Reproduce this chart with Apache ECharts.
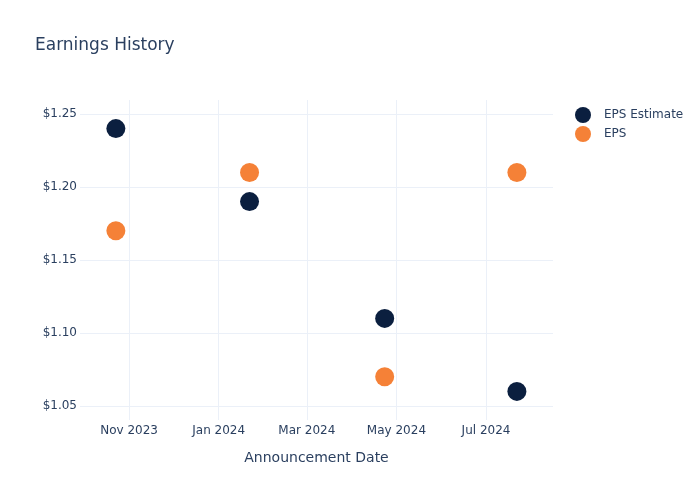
<!DOCTYPE html>
<html>
<head>
<meta charset="utf-8">
<script src="https://cdn.jsdelivr.net/npm/echarts@6/dist/echarts.min.js"></script>
<style>html,body{margin:0;padding:0;background:#fff}#c{width:700px;height:500px}</style>
</head>
<body>
<div id="c"></div>
<script>
const dates = ['2023-10-23', '2024-01-22', '2024-04-23', '2024-07-22'];
const epsEstimate = [1.24, 1.19, 1.11, 1.06];
const eps = [1.17, 1.21, 1.07, 1.21];
const xTicks = ['2023-11-01', '2024-01-01', '2024-03-01', '2024-05-01', '2024-07-01'];
const yTicks = [1.05, 1.10, 1.15, 1.20, 1.25];
const xRange = ['2023-09-28T14:00:00Z', '2024-08-15T14:00:00Z'];
const yRange = [1.0404, 1.2596];

const ts = s => Date.parse(s.length === 10 ? s + 'T00:00:00Z' : s);
const MONTHS = ['Jan','Feb','Mar','Apr','May','Jun','Jul','Aug','Sep','Oct','Nov','Dec'];
const FONT = 'DejaVu Sans';
const TXT = '#2a3f5f';
const GRID = '#ebf0f8';

const chart = echarts.init(document.getElementById('c'), null, {renderer: 'canvas'});
chart.setOption({
  animation: false,
  backgroundColor: '#fff',
  title: {
    text: 'Earnings History',
    left: 30, top: 32,
    textStyle: {fontFamily: FONT, fontSize: 17, fontWeight: 'normal', color: TXT}
  },
  legend: {
    orient: 'vertical',
    left: 575, top: 107, padding: 0,
    itemWidth: 16, itemHeight: 16, itemGap: 3,
    icon: 'circle',
    textStyle: {fontFamily: FONT, fontSize: 12, color: TXT, padding: [0, 0, 0, 8]},
    data: ['EPS Estimate', 'EPS']
  },
  grid: {left: 80, right: 147, top: 100, bottom: 80, containLabel: false},
  xAxis: {
    type: 'value',
    min: ts(xRange[0]), max: ts(xRange[1]),
    name: 'Announcement Date',
    nameLocation: 'middle', nameGap: 31,
    nameTextStyle: {fontFamily: FONT, fontSize: 14, color: TXT},
    axisLine: {show: false},
    axisTick: {show: false, customValues: xTicks.map(ts)},
    axisLabel: {
      customValues: xTicks.map(ts),
      fontFamily: FONT, fontSize: 12, color: TXT, margin: 5,
      formatter: v => { const d = new Date(v); return MONTHS[d.getUTCMonth()] + ' ' + d.getUTCFullYear(); }
    },
    splitLine: {show: true, lineStyle: {color: GRID, width: 1}}
  },
  yAxis: {
    type: 'value',
    min: yRange[0], max: yRange[1],
    axisLine: {show: false},
    axisTick: {show: false, customValues: yTicks},
    axisLabel: {
      customValues: yTicks,
      fontFamily: FONT, fontSize: 12, color: TXT, margin: 3,
      formatter: v => '$' + v.toFixed(2)
    },
    splitLine: {show: true, lineStyle: {color: GRID, width: 1}}
  },
  series: [
    {
      name: 'EPS Estimate', type: 'scatter', symbolSize: 19,
      itemStyle: {color: '#0b1f3f', opacity: 1},
      data: dates.map((d, i) => [ts(d), epsEstimate[i]])
    },
    {
      name: 'EPS', type: 'scatter', symbolSize: 19,
      itemStyle: {color: '#f58137', opacity: 1},
      data: dates.map((d, i) => [ts(d), eps[i]])
    }
  ]
});
</script>
</body>
</html>
